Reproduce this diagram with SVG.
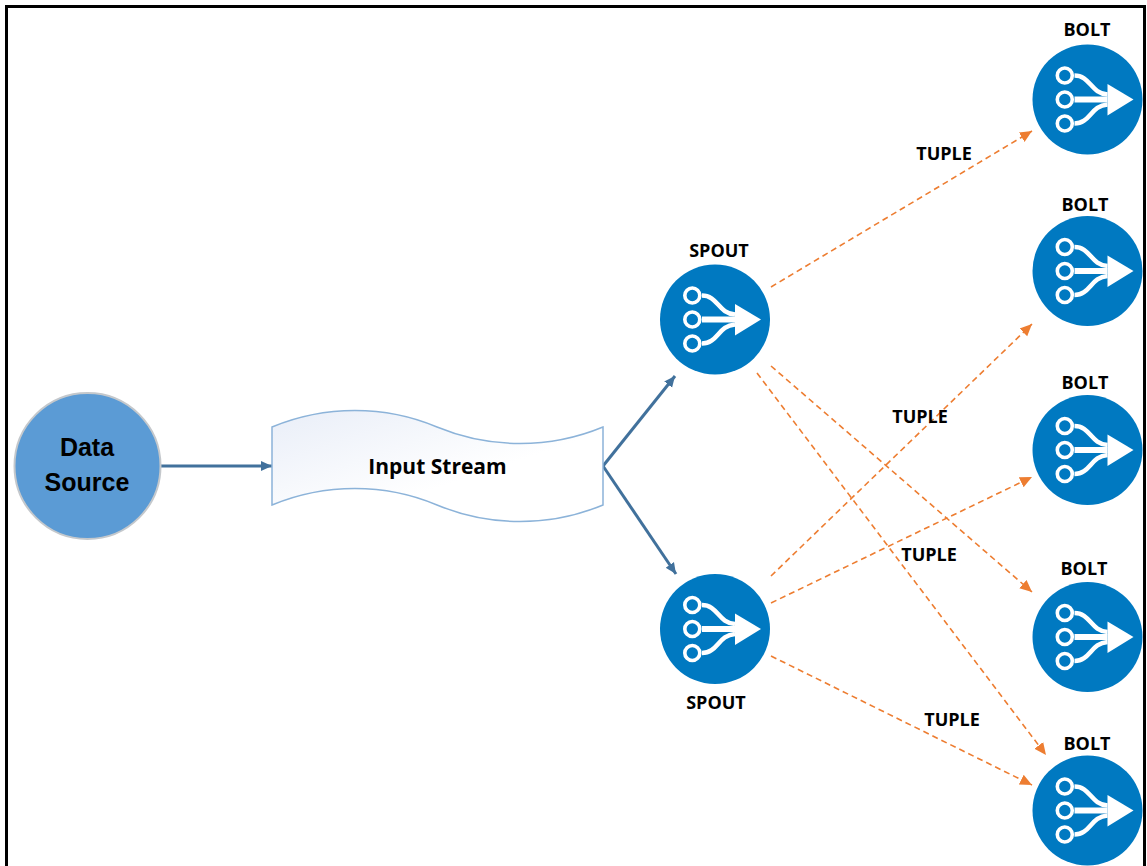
<svg xmlns="http://www.w3.org/2000/svg" width="1147" height="866" viewBox="0 0 1147 866">
<style>
.lbl{font-family:"Open Sans","Liberation Sans",sans-serif;font-weight:700;font-size:18px;fill:#000;text-anchor:middle}
.ds{font-family:"Liberation Sans",sans-serif;font-weight:700;font-size:25px;fill:#000;text-anchor:middle}
.blue{fill:none;stroke:#41719c;stroke-width:3}
.or{fill:none;stroke:#ed7d31;stroke-width:1.6;stroke-dasharray:6 4}
</style>
<defs>
<linearGradient id="g" x1="0" y1="0" x2="1" y2="1"><stop offset="0" stop-color="#e9eef8"/><stop offset="0.6" stop-color="#fff"/></linearGradient>
<marker id="ab" markerUnits="userSpaceOnUse" markerWidth="12" markerHeight="12" refX="11" refY="6" orient="auto"><path d="M0,1 L11,6 L0,11 Z" fill="#41719c"/></marker>
<marker id="ao" markerUnits="userSpaceOnUse" markerWidth="14" markerHeight="14" refX="12" refY="6.5" orient="auto"><path d="M0,1 L12,6.5 L0,12 Z" fill="#ed7d31"/></marker>
<g id="icon">
<circle r="55" fill="#0079c1"/>
<g fill="none" stroke="#fff" stroke-width="3.6">
<circle cx="-22.7" cy="-24" r="7.5"/><circle cx="-22.7" cy="0" r="7.5"/><circle cx="-22.7" cy="24" r="7.5"/>
</g>
<g fill="none" stroke="#fff" stroke-width="4.5">
<path d="M-13,-24 C3,-24 3,-6 20,-5"/><path d="M-13,24 C3,24 3,6 20,5"/><path d="M-13,0 H20" stroke-width="6"/>
</g>
<path d="M20,-15.5 L46,0 L20,16 Z" fill="#fff"/>
</g>
</defs>
<rect width="1147" height="866" fill="#fff"/>
<path d="M6.5,866 V6.5 H1144.5 V866" fill="none" stroke="#000" stroke-width="3"/>
<g id="connectors">
<path class="blue" d="M161,466 H272" marker-end="url(#ab)"/>
<path class="blue" d="M603,466 L675,376" marker-end="url(#ab)"/>
<path class="blue" d="M603,466 L676,574" marker-end="url(#ab)"/>
<path class="or" d="M771,287 L1032,131" marker-end="url(#ao)"/>
<path class="or" d="M771,366 L1032,592" marker-end="url(#ao)"/>
<path class="or" d="M757,373 L1046,755" marker-end="url(#ao)"/>
<path class="or" d="M771,576 L1032,324" marker-end="url(#ao)"/>
<path class="or" d="M771,603 L1032,477" marker-end="url(#ao)"/>
<path class="or" d="M771,656 L1032,785" marker-end="url(#ao)"/>
</g>
<g id="data-source">
<circle cx="87.500" cy="466" r="73" fill="#5b9bd5" stroke="#c4c8cc" stroke-width="2"/>
<text class="ds" x="87" y="456">Data</text>
<text class="ds" x="87" y="491">Source</text>
</g>
<g id="input-stream">
<path d="M272,427 C325,405 385,405 437,427 C490,449 550,449 603,427 V505 C550,527 490,527 437,505 C385,483 325,483 272,505 Z" fill="url(#g)" stroke="#8cb3d9" stroke-width="1.500"/>
<text class="lbl" x="437.500" y="474" font-size="21" style="font-size:21px">Input Stream</text>
</g>
<g id="spout-1"><use href="#icon" x="715" y="319.500"/><text class="lbl" x="719" y="257">SPOUT</text></g>
<g id="spout-2"><use href="#icon" x="715" y="629"/><text class="lbl" x="716" y="709">SPOUT</text></g>
<g id="bolt-1"><use href="#icon" x="1087.500" y="99.500"/><text class="lbl" x="1087" y="36">BOLT</text></g>
<g id="bolt-2"><use href="#icon" x="1087.500" y="271"/><text class="lbl" x="1085" y="211">BOLT</text></g>
<g id="bolt-3"><use href="#icon" x="1087.500" y="450"/><text class="lbl" x="1085" y="389">BOLT</text></g>
<g id="bolt-4"><use href="#icon" x="1087.500" y="637"/><text class="lbl" x="1084" y="575">BOLT</text></g>
<g id="bolt-5"><use href="#icon" x="1087.500" y="810.500"/><text class="lbl" x="1087" y="750">BOLT</text></g>
<g id="tuple-labels">
<text class="lbl" x="944" y="160">TUPLE</text>
<text class="lbl" x="920" y="423">TUPLE</text>
<text class="lbl" x="929" y="561">TUPLE</text>
<text class="lbl" x="952" y="726">TUPLE</text>
</g>
</svg>
